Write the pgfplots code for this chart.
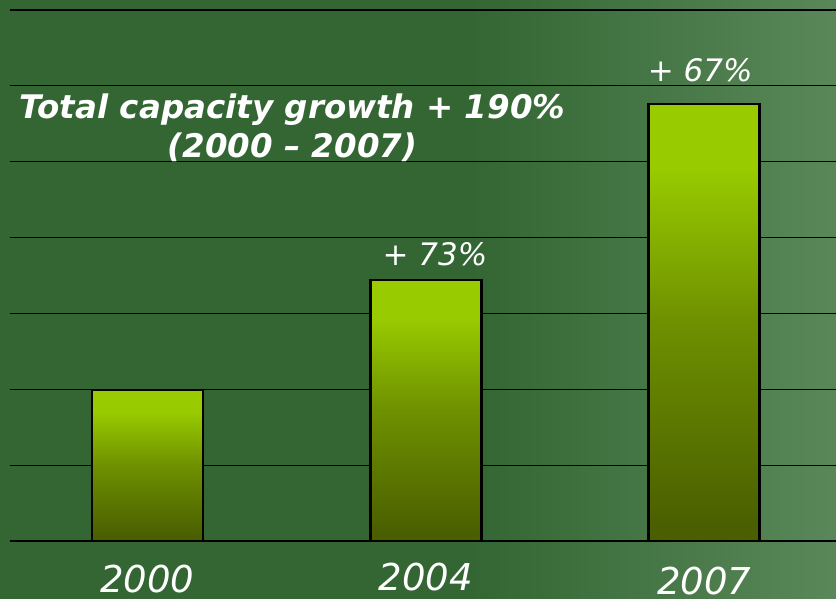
\documentclass[border=0pt]{standalone}
\usepackage{pgfplots}
\pgfplotsset{compat=1.18}
\usepackage{fontspec}
\setmainfont{DejaVu Sans}[ItalicFont=DejaVu Sans Oblique, BoldFont=DejaVu Sans Bold, BoldItalicFont=DejaVu Sans Bold Oblique]
\definecolor{bgleft}{HTML}{336633}
\definecolor{bgright}{HTML}{5A885A}
\definecolor{barlight}{HTML}{99CC00}
\definecolor{bardark}{HTML}{4A6000}
\definecolor{barmid}{HTML}{6E9000}
\pgfdeclareverticalshading{barshade}{100bp}{color(0bp)=(bardark); color(27bp)=(bardark); color(50bp)=(barmid); color(68bp)=(barlight); color(75bp)=(barlight); color(100bp)=(barlight)}
\pgfplotstableread{
x y
0 1.99
}\capA
\pgfplotstableread{
x y
1 3.44
}\capB
\pgfplotstableread{
x y
2 5.76
}\capC
\begin{document}
\begin{tikzpicture}[x=1pt,y=1pt]
\useasboundingbox (0,0) rectangle (836,598);
\fill[bgleft] (-6,-6) rectangle (842,604);
\shade[left color=bgleft, right color=bgright] (470,-6) rectangle (842,604);
\begin{axis}[
  at={(10pt,57pt)}, anchor=south west,
  scale only axis, width=826pt, height=531pt,
  xmin=-0.494, xmax=2.474, ymin=0, ymax=7,
  ytick={0,1,...,7}, ymajorgrids,
  grid style={black, line width=1.2pt},
  xtick=\empty, yticklabels={},
  major tick length=0pt,
  axis line style={draw=none},
  clip=false,
  bar width=111pt,
  barstyle/.style={ybar, bar shift=0pt, draw=black, line width=2.8pt, shading=barshade, mark=none},
]
\addplot[barstyle] table[x=x,y=y] {\capA};
\addplot[barstyle] table[x=x,y=y] {\capB};
\addplot[barstyle] table[x=x,y=y] {\capC};
\node[text=white, anchor=base, font=\fontsize{37}{37}\selectfont\itshape] at (axis cs:0,-0.685) {2000};
\node[text=white, anchor=base, font=\fontsize{37}{37}\selectfont\itshape] at (axis cs:1,-0.646) {2004};
\node[text=white, anchor=base, font=\fontsize{37}{37}\selectfont\itshape] at (axis cs:2,-0.711) {2007};
\node[text=white, font=\fontsize{31}{31}\selectfont\itshape] at (axis cs:1.033,3.78) {+ 73\%};
\node[text=white, font=\fontsize{31}{31}\selectfont\itshape] at (axis cs:1.986,6.21) {+ 67\%};
\node[text=white, align=center, font=\fontsize{32.5}{39}\selectfont\bfseries\itshape] at (axis cs:0.521,5.45) {Total capacity growth + 190\%\\(2000 -- 2007)};
\end{axis}
\end{tikzpicture}
\end{document}
